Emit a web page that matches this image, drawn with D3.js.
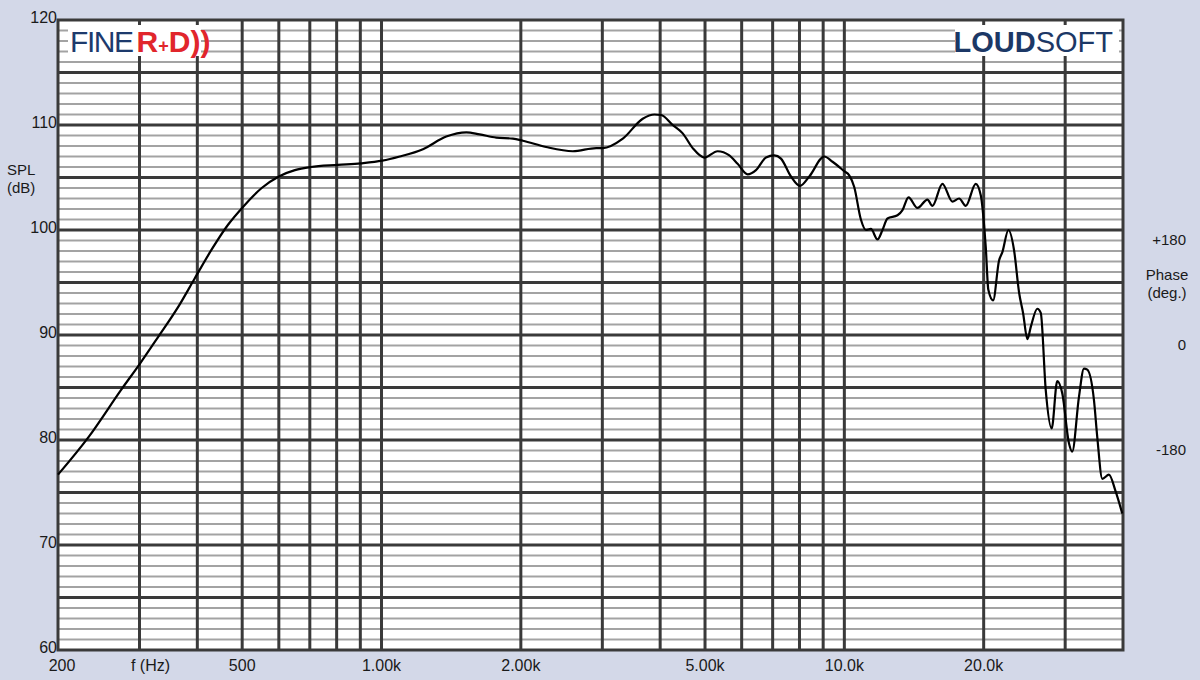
<!DOCTYPE html>
<html>
<head>
<meta charset="utf-8">
<script src="https://cdn.jsdelivr.net/npm/d3@7"></script>
<style>
  html, body { margin: 0; padding: 0; background: #d3d8e8; }
  svg { display: block; font-family: "Liberation Sans", Arial, sans-serif; }
</style>
</head>
<body>
<svg id="chart" width="1200" height="680"></svg>
<script>
// ---- data ----
const freqHz = [200, 233, 274, 301, 329, 364, 395, 429, 466, 502, 551, 600, 650, 703, 805, 902, 1004, 1095, 1229, 1380, 1525, 1629, 1770, 1922, 2020, 2268, 2590, 2910, 3006, 3322, 3668, 3888, 4018, 4257, 4475, 4703, 4984, 5323, 5643, 5880, 6181, 6443, 6772, 7057, 7295, 7667, 8018, 8400, 9050, 9430, 9994, 10246, 10504, 10858, 11132, 11412, 11794, 12090, 12394, 13026, 13354, 13760, 14388, 15120, 15500, 16288, 17116, 17696, 18296, 19228, 19712, 20040, 20208, 20470, 20960, 21590, 21952, 22620, 23260, 23860, 24330, 24860, 25290, 26120, 26570, 27230, 28050, 28840, 29580, 30570, 31070, 32130, 32940, 33490, 34620, 35190, 36090, 37300, 38560, 39850];
const splDb = [76.7, 80.3, 84.8, 87.3, 89.8, 92.7, 95.4, 98.1, 100.5, 102.2, 104.0, 105.1, 105.7, 106.0, 106.2, 106.35, 106.6, 107.0, 107.7, 108.9, 109.3, 109.1, 108.8, 108.7, 108.5, 107.9, 107.5, 107.8, 107.8, 108.7, 110.6, 111.0, 110.95, 110.0, 109.2, 107.8, 106.9, 107.5, 107.1, 106.3, 105.3, 105.7, 106.9, 107.1, 106.8, 105.1, 104.2, 105.1, 107.0, 106.5, 105.6, 105.2, 104.1, 101.0, 100.0, 100.1, 99.1, 100.0, 101.1, 101.4, 101.9, 103.1, 102.1, 102.9, 102.3, 104.4, 102.7, 103.0, 102.3, 104.4, 103.3, 100.5, 98.4, 94.3, 93.3, 97.1, 97.9, 100.0, 98.1, 94.0, 92.1, 89.6, 90.8, 92.5, 92.1, 84.8, 81.1, 85.6, 84.4, 79.7, 78.9, 84.1, 86.8, 86.7, 83.8, 80.3, 76.3, 76.7, 75.1, 73.0];

const freqDomain = [200, 40000];
const splDomain = [60, 120];
const gridFreqs = [300, 400, 500, 600, 700, 800, 900, 1000, 2000, 3000, 4000, 5000, 6000, 7000, 8000, 9000, 10000, 20000, 30000];
const xTickValues = [200, 300, 500, 1000, 2000, 5000, 10000, 20000];
const xTickLabels = ["200", "f (Hz)", "500", "1.00k", "2.00k", "5.00k", "10.0k", "20.0k"];
const yTickValues = [60, 70, 80, 90, 100, 110, 120];
const phaseTickValues = [180, 0, -180];
const phaseTickLabels = ["+180", "0", "-180"];

// ---- layout ----
const L = 58, R = 1123, T = 20, B = 650;
const svg = d3.select("#chart");
svg.append("rect").attr("width", 1200).attr("height", 680).attr("fill", "#d3d8e8");

const x = d3.scaleLog().domain(freqDomain).range([L, R]);
const y = d3.scaleLinear().domain(splDomain).range([B, T]);
const yPhase = d3.scaleLinear().domain([-180, 180]).range([449, 239]);

// plot background
svg.append("rect").attr("x", L).attr("y", T).attr("width", R - L).attr("height", B - T).attr("fill", "#ffffff");

const grid = svg.append("g");
const minorDb = d3.range(61, 120).filter(d => d % 5 !== 0);
const majorDb = d3.range(65, 120, 5);

grid.selectAll("line.minor").data(minorDb).join("line")
  .attr("x1", L).attr("x2", R).attr("y1", d => y(d)).attr("y2", d => y(d))
  .attr("stroke", "#a3a3a3").attr("stroke-width", 2);

grid.selectAll("line.vert").data(gridFreqs).join("line")
  .attr("x1", d => x(d)).attr("x2", d => x(d)).attr("y1", T).attr("y2", B)
  .attr("stroke", "#3a3a3a").attr("stroke-width", 3);

grid.selectAll("line.major").data(majorDb).join("line")
  .attr("x1", L).attr("x2", R).attr("y1", d => y(d)).attr("y2", d => y(d))
  .attr("stroke", "#3a3a3a").attr("stroke-width", 3);

// logo boxes (white over grid)
svg.append("rect").attr("x", 68).attr("y", 25).attr("width", 133).attr("height", 31).attr("fill", "#ffffff");
svg.append("rect").attr("x", 955).attr("y", 25).attr("width", 164).attr("height", 31).attr("fill", "#ffffff");

// border
svg.append("rect").attr("x", L).attr("y", T).attr("width", R - L).attr("height", B - T)
  .attr("fill", "none").attr("stroke", "#3a3a3a").attr("stroke-width", 3);

// curve
const line = d3.line()
  .x((d, i) => x(freqHz[i]))
  .y(d => y(d))
  .curve(d3.curveMonotoneX);
svg.append("path").datum(splDb).attr("d", line)
  .attr("fill", "none").attr("stroke", "#000").attr("stroke-width", 2.2).attr("stroke-linejoin", "round");

// logos
const fine = svg.append("text").attr("x", 70).attr("y", 52).attr("font-size", 30);
fine.append("tspan").text("FINE").attr("fill", "#1d3a6c").attr("textLength", 64);
fine.append("tspan").text("R").attr("fill", "#e1262c").attr("font-weight", "bold").attr("dx", 4);
fine.append("tspan").text("+").attr("fill", "#e1262c").attr("font-weight", "bold").attr("font-size", 18);
fine.append("tspan").text("D))").attr("fill", "#e1262c").attr("font-weight", "bold");

const loud = svg.append("text").attr("x", 1113).attr("y", 52).attr("font-size", 29).attr("text-anchor", "end");
loud.append("tspan").text("LOUD").attr("fill", "#1c3866").attr("font-weight", "bold");
loud.append("tspan").text("SOFT").attr("fill", "#1c3866");

// y axis labels
const labelColor = "#1a1a1a";
svg.append("g").selectAll("text").data(yTickValues).join("text")
  .attr("x", 57).attr("y", d => y(d) + 3).attr("text-anchor", "end")
  .attr("font-size", 16).attr("fill", labelColor).text(d => d);

svg.append("text").attr("x", 7).attr("y", 175).attr("font-size", 15).attr("fill", labelColor).text("SPL");
svg.append("text").attr("x", 7).attr("y", 193).attr("font-size", 15).attr("fill", labelColor).text("(dB)");

// x axis labels
svg.append("g").selectAll("text").data(xTickValues).join("text")
  .attr("x", (d, i) => x(d) + (i === 0 ? 4 : (i === 1 ? 11 : 0)))
  .attr("y", 671).attr("text-anchor", "middle")
  .attr("font-size", 16).attr("fill", labelColor).text((d, i) => xTickLabels[i]);

// phase axis labels
svg.append("g").selectAll("text").data(phaseTickValues).join("text")
  .attr("x", 1186).attr("y", d => yPhase(d) + 6).attr("text-anchor", "end")
  .attr("font-size", 15).attr("fill", labelColor).text((d, i) => phaseTickLabels[i]);
svg.append("text").attr("x", 1167).attr("y", 280).attr("text-anchor", "middle").attr("font-size", 15).attr("fill", labelColor).text("Phase");
svg.append("text").attr("x", 1167).attr("y", 298).attr("text-anchor", "middle").attr("font-size", 15).attr("fill", labelColor).text("(deg.)");
</script>
</body>
</html>
